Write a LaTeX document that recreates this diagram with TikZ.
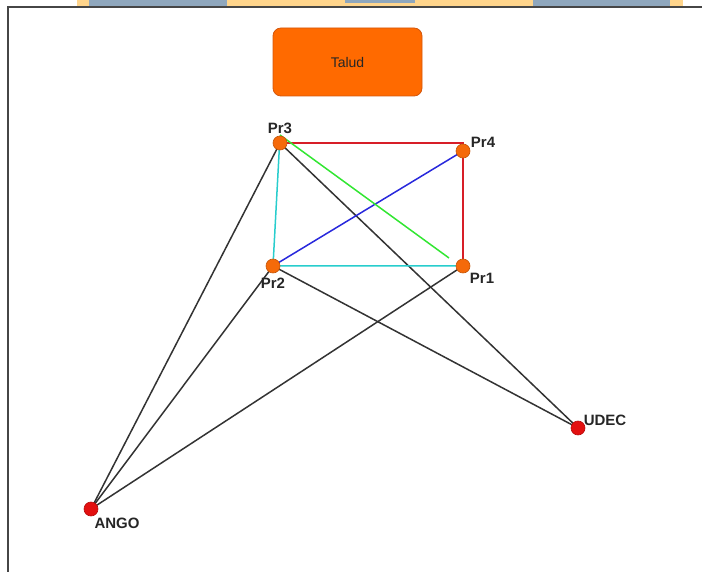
\documentclass[tikz,border=0pt]{standalone}
\usepackage{fontspec}
\setmainfont{Liberation Sans}
\begin{document}
\begin{tikzpicture}[x=1pt,y=-1pt,
  every node/.style={inner sep=0pt, outer sep=0pt},
  station/.style={circle, minimum size=14pt, fill=#1, draw=#1!80!black, line width=0.6pt},
  lbl/.style={font=\fontsize{15}{17}\selectfont\bfseries, text=black!85},
  link/.style={line width=1.5pt, black!80},
  edge/.style={line width=1.5pt, color=#1}]
\definecolor{prorange}{HTML}{F56A0A}
\definecolor{basered}{HTML}{E31010}
\definecolor{barbase}{HTML}{FFD58C}
\definecolor{barblock}{HTML}{8FA7BD}
\definecolor{taludfill}{HTML}{FF6A00}
\definecolor{taludedge}{HTML}{D4570C}
\definecolor{sidecyan}{RGB}{40,205,205}
\definecolor{sidered}{RGB}{215,30,40}
\definecolor{diagblue}{RGB}{40,40,220}
\definecolor{diaggreen}{RGB}{50,230,50}
\definecolor{framegray}{RGB}{70,70,70}
\useasboundingbox (0,0) rectangle (702,572);
% window strip along the top edge
\fill[barbase] (77,0) rectangle (683,6.5);
\fill[barblock] (89,0) rectangle (227,6.5);
\fill[barblock] (533,0) rectangle (670,6.5);
\fill[barblock] (345,0) rectangle (415,3);
% canvas border (top and left edges)
\fill[framegray] (7,6.5) rectangle (702,8.5);
\fill[framegray] (7,6.5) rectangle (9,572);
% title box
\node[draw=taludedge, fill=taludfill, rounded corners=8pt, line width=0.8pt,
      minimum width=149pt, minimum height=68pt, font=\fontsize{14}{16}\selectfont, text=black!85]
      (talud) at (347.5,62) {Talud};
% survey points
\coordinate (p3) at (280,143);
\coordinate (p4) at (463,151);
\coordinate (p2) at (273,266);
\coordinate (p1) at (463,266);
\coordinate (ud) at (578,428);
\coordinate (an) at (91,509);
\coordinate (gend) at (449,258);
% baselines to the reference stations
\draw[link] (p3) -- (an);
\draw[link] (p2) -- (an);
\draw[link] (p1) -- (an);
\draw[link] (p3) -- (ud);
\draw[link] (p2) -- (ud);
% sides and diagonals of the slope quadrilateral
\draw[edge=sidecyan] ([yshift=7pt]p3) -- (p2) -- (p1);
\draw[edge=sidered] (p3) -- (463,143) -- (p1);
\draw[edge=diagblue] (p2) -- (p4);
\draw[edge=diaggreen] ([yshift=8pt]p3) -- (gend);
% markers
\node[station=prorange] (n3) at (p3) {};
\node[station=prorange] (n4) at (p4) {};
\node[station=prorange] (n2) at (p2) {};
\node[station=prorange] (n1) at (p1) {};
\node[station=basered] (nud) at (ud) {};
\node[station=basered] (nan) at (an) {};
% labels
\node[lbl] (t3) at (280,128) {Pr3};
\node[lbl] (t4) at (483,142) {Pr4};
\node[lbl] (t2) at (273,283) {Pr2};
\node[lbl] (t1) at (482,278) {Pr1};
\node[lbl] (tud) at (605,420) {UDEC};
\node[lbl] (tan) at (117,523) {ANGO};
\end{tikzpicture}
\end{document}
